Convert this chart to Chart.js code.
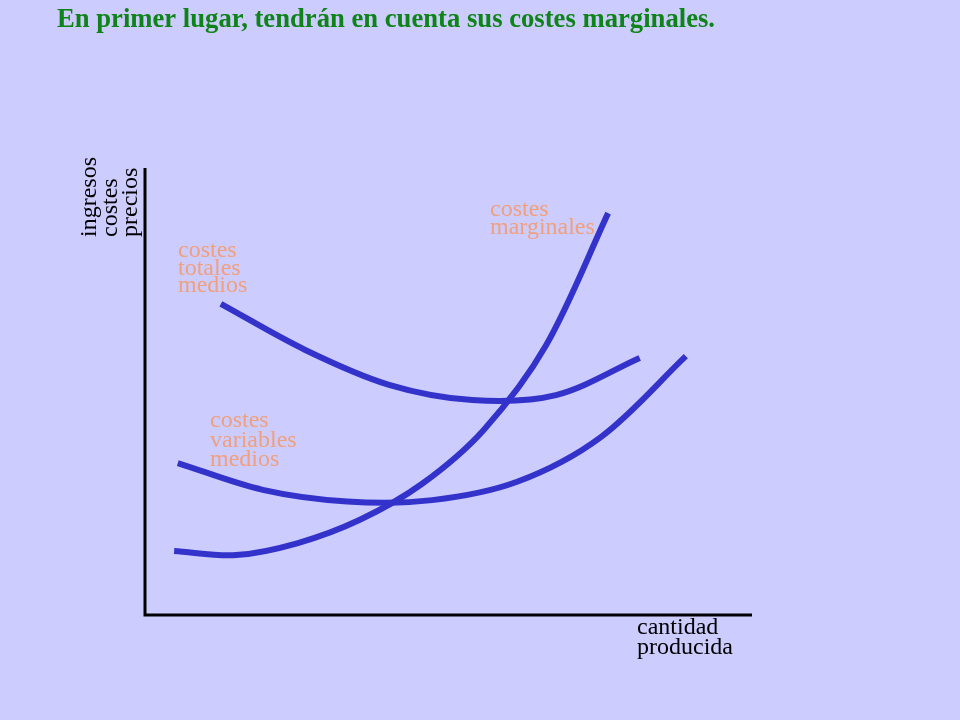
<!DOCTYPE html>
<html>
<head>
<meta charset="utf-8">
<script src="https://cdn.jsdelivr.net/npm/chart.js@4/dist/chart.umd.min.js"></script>
<style>
  html, body { margin: 0; padding: 0; background: #CCCCFF; }
  canvas { display: block; }
</style>
</head>
<body>
<canvas id="c" width="960" height="720"></canvas>
<script>
// ---- Data (quantity on x, cost/price on y, both 0..100) ----
const mcX  = [4.8, 15.0, 25.2, 35.4, 45.6, 55.8, 66.1, 76.3];
const mcY  = [14.3, 13.4, 16.1, 21.3, 29.3, 41.4, 60.4, 89.9];

const avcX = [5.4, 19.4, 33.3, 47.3, 61.3, 75.1, 89.1];
const avcY = [34.0, 28.0, 25.4, 25.7, 29.8, 39.8, 57.9];

const atcX = [12.5, 26.4, 40.2, 53.9, 67.7, 81.5];
const atcY = [69.6, 59.3, 51.5, 48.1, 49.2, 57.5];

const titleText = "En primer lugar, tendrán en cuenta sus costes marginales.";
const yAxisLabels = ["ingresos", "costes", "precios"];
const xAxisLabels = ["cantidad", "producida"];
const mcLabel  = ["costes", "marginales"];
const atcLabel = ["costes", "totales", "medios"];
const avcLabel = ["costes", "variables", "medios"];

const pts = (xs, ys) => xs.map((x, i) => ({ x: x, y: ys[i] }));

const CURVE = '#3333CC';
const LABEL = '#F0A07C';

const decorPlugin = {
  id: 'decor',
  beforeDatasetsDraw(chart) {
    const ctx = chart.ctx;
    const a = chart.chartArea;
    const x0 = chart.scales.x.getPixelForValue(0);
    const y0 = chart.scales.y.getPixelForValue(0);
    ctx.save();
    ctx.strokeStyle = '#000';
    ctx.lineWidth = 3;
    ctx.lineCap = 'butt';
    ctx.beginPath();
    ctx.moveTo(x0, a.top);
    ctx.lineTo(x0, y0 + 1.5);
    ctx.moveTo(x0 - 1.5, y0);
    ctx.lineTo(a.right, y0);
    ctx.stroke();
    ctx.restore();
  },
  afterDraw(chart) {
    const ctx = chart.ctx;
    ctx.save();
    // Title
    ctx.fillStyle = '#0E8418';
    ctx.font = 'bold 28px "Liberation Serif", "Times New Roman", serif';
    ctx.textBaseline = 'alphabetic';
    ctx.textAlign = 'left';
    const w = ctx.measureText(titleText).width;
    const sx = 658 / w;
    ctx.save();
    ctx.translate(57, 27);
    ctx.scale(sx, 1);
    ctx.fillText(titleText, 0, 0);
    ctx.restore();

    ctx.font = '24px "Liberation Serif", "Times New Roman", serif';
    // Curve labels
    ctx.fillStyle = LABEL;
    const block = (lines, x, y, lh) => lines.forEach((t, i) => ctx.fillText(t, x, y + i * lh));
    block(mcLabel, 490, 216, 18);
    block(atcLabel, 178, 257, 17.5);
    block(avcLabel, 210, 427, 19.5);

    // Axis labels
    ctx.fillStyle = '#000';
    block(xAxisLabels, 637, 634, 20);
    const baseXs = [96, 117, 137];
    yAxisLabels.forEach((t, i) => {
      ctx.save();
      ctx.translate(baseXs[i], 237);
      ctx.rotate(-Math.PI / 2);
      ctx.fillText(t, 0, 0);
      ctx.restore();
    });
    ctx.restore();
  }
};

const ds = (data) => ({
  data: data,
  borderColor: CURVE,
  borderWidth: 6,
  borderCapStyle: 'butt',
  pointRadius: 0,
  fill: false,
  tension: 0.33
});

new Chart(document.getElementById('c'), {
  type: 'line',
  data: {
    datasets: [
      ds(pts(mcX, mcY)),
      ds(pts(atcX, atcY)),
      ds(pts(avcX, avcY))
    ]
  },
  options: {
    responsive: false,
    animation: false,
    layout: { padding: { left: 145, right: 208, top: 168, bottom: 105 } },
    scales: {
      x: { type: 'linear', min: 0, max: 100, display: false },
      y: { type: 'linear', min: 0, max: 100, display: false }
    },
    plugins: { legend: { display: false }, tooltip: { enabled: false }, title: { display: false } }
  },
  plugins: [decorPlugin]
});
</script>
</body>
</html>
